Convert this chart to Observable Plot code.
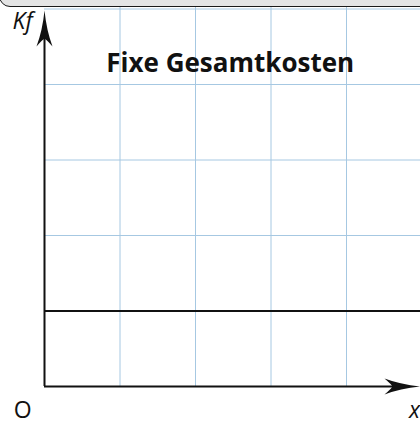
<!DOCTYPE html>
<html>
<head>
<meta charset="utf-8">
<script src="https://cdn.jsdelivr.net/npm/d3@7"></script>
<script src="https://cdn.jsdelivr.net/npm/@observablehq/plot@0.6"></script>
<style>
  html, body { margin: 0; padding: 0; background: #fff; }
  #wrap { position: relative; width: 420px; height: 421px; overflow: hidden; }
  #topbar { position: absolute; left: -1px; top: -20px; width: 440px; height: 25px;
            background: #e4e4e4; border: 1.5px solid #1a1a1a; border-radius: 11px; }
</style>
</head>
<body>
<div id="wrap"><div id="topbar"></div></div>
<script>
// Data
const xGrid = [1, 2, 3, 4, 5];
const yGrid = [1, 2, 3, 4, 5];
const fixedCost = [1];           // Kf level (constant)
const xAxisEnd = [4.98];
const yAxisEnd = [4.98];
const title = "Fixe Gesamtkosten";
const yLabel = "Kf";
const xLabel = "x";
const originLabel = "O";

const arrowUp = {
  draw(ctx) {
    ctx.moveTo(0, 0);
    ctx.quadraticCurveTo(2, 20, 8, 36);
    ctx.quadraticCurveTo(2, 29, 0, 28);
    ctx.quadraticCurveTo(-2, 29, -8, 36);
    ctx.quadraticCurveTo(-2, 20, 0, 0);
    ctx.closePath();
  }
};
const arrowRight = {
  draw(ctx) {
    ctx.moveTo(0, 0);
    ctx.quadraticCurveTo(-20, 2, -36, 8);
    ctx.quadraticCurveTo(-29, 2, -28, 0);
    ctx.quadraticCurveTo(-29, -2, -36, -8);
    ctx.quadraticCurveTo(-20, -2, 0, 0);
    ctx.closePath();
  }
};

const font = "Open Sans";
const chart = Plot.plot({
  width: 420,
  height: 421,
  margin: 0,
  x: {domain: [0, 5], range: [44, 421.5], axis: null},
  y: {domain: [0, 5], range: [386, 8.5], axis: null},
  style: {fontFamily: font, background: "white", overflow: "visible"},
  marks: [
    Plot.ruleX(xGrid, {x: d => d, y1: 0, y2: 5.1, stroke: "#a6c8e2", strokeWidth: 1}),
    Plot.ruleY(yGrid, {y: d => d, x1: 0, x2: 5.1, stroke: "#a6c8e2", strokeWidth: 1}),
    Plot.ruleY(fixedCost, {y: d => d, x1: 0, x2: 5.1, stroke: "#111", strokeWidth: 2}),
    Plot.ruleY([0], {x1: 0, x2: xAxisEnd[0] - 0.3, stroke: "#111", strokeWidth: 2}),
    Plot.ruleX([0], {y1: 0, y2: yAxisEnd[0] - 0.3, stroke: "#111", strokeWidth: 2}),
    Plot.dot(xAxisEnd, {x: d => d, y: 0, symbol: arrowRight, fill: "#111", stroke: null, r: 10}),
    Plot.dot(yAxisEnd, {x: 0, y: d => d, symbol: arrowUp, fill: "#111", stroke: null, r: 10}),
    Plot.text([title], {x: 2.46, y: 4.27, text: d => d, fontSize: 26, fontWeight: "bold",
      fill: "#111", textAnchor: "middle", lineAnchor: "middle"}),
    Plot.text([yLabel], {x: -0.29, y: 4.83, text: d => d, fontSize: 23, fontStyle: "italic",
      fill: "#111", textAnchor: "middle", lineAnchor: "middle"}),
    Plot.text([originLabel], {x: -0.29, y: -0.32, text: d => d, fontSize: 23,
      fill: "#111", textAnchor: "middle", lineAnchor: "middle"}),
    Plot.text([xLabel], {x: 4.9, y: -0.32, text: d => d, fontSize: 23, fontStyle: "italic",
      fill: "#111", textAnchor: "middle", lineAnchor: "middle"})
  ]
});
chart.style.position = "absolute";
chart.style.left = "0";
chart.style.top = "0";
const wrap = document.getElementById("wrap");
wrap.insertBefore(chart, wrap.firstChild);
</script>
</body>
</html>
